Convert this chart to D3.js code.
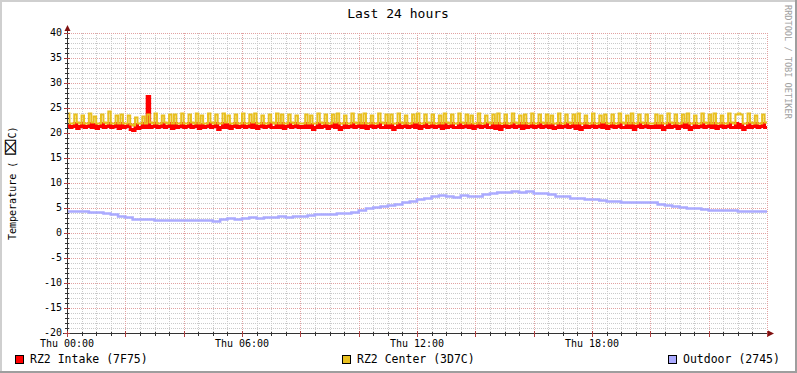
<!DOCTYPE html>
<html><head><meta charset="utf-8">
<script src="https://cdn.jsdelivr.net/npm/d3@7"></script>
<style>
body{margin:0;background:#fff}
svg{display:block}
text{font-family:"DejaVu Sans Mono",monospace}
</style>
</head><body>
<svg id="c" width="797" height="373"></svg>
<script>
// ---------- data ----------
const chartTitle = "Last 24 hours";
const yAxisLabelParts = ["Temperature (", "\u2327", "C)"];
const creditText = "RRDTOOL / TOBI OETIKER";
const seriesNames = ["RZ2 Intake (7F75)", "RZ2 Center (3D7C)", "Outdoor (2745)"];
const seriesColors = ["#ff0000", "#e8c020", "#aaaaff"];
const yTickValues = [-20, -15, -10, -5, 0, 5, 10, 15, 20, 25, 30, 35, 40];
const xLabelHours = [0, 6, 12, 18];
const xLabelTexts = ["Thu 00:00", "Thu 06:00", "Thu 12:00", "Thu 18:00"];
const stepMinutesFast = 5;     // intake / center sample step
const stepMinutesOutdoor = 15; // outdoor sample step

// RZ2 Intake, 5-minute samples, 00:00 .. 23:55
const intake = [
21.8,21.2,21.5,22.0,21.0,21.4,21.9,21.1,21.5,22.1,21.3,21.8,21.0,21.4,22.0,21.2,21.5,22.1,21.1,21.4,21.9,21.0,22.0,21.2,
21.4,21.8,20.9,20.6,21.7,21.0,21.3,21.9,21.2,27.5,21.3,21.5,22.0,21.1,21.4,21.9,21.2,21.5,22.1,21.0,21.9,21.1,21.4,22.0,
21.1,21.4,22.0,21.2,21.5,22.1,21.0,21.8,21.1,21.4,22.0,21.2,21.5,21.9,20.9,21.3,22.0,21.1,21.8,21.0,21.4,22.1,21.2,21.5,
22.0,21.1,21.4,21.9,21.2,22.0,21.0,21.4,21.9,21.2,21.5,22.0,21.1,21.3,22.1,21.2,21.9,21.0,21.4,22.0,21.1,21.5,21.9,21.2,
21.5,21.3,22.0,21.1,21.8,20.9,21.3,22.0,21.2,21.5,21.9,21.0,21.4,22.1,21.2,22.0,20.8,21.3,21.9,21.1,21.5,22.0,21.2,21.4,
21.9,21.1,22.0,21.0,21.4,21.9,21.2,21.5,22.1,21.1,21.3,22.0,21.2,21.8,20.8,21.3,22.0,21.1,21.5,21.9,21.2,21.4,22.0,21.1,
22.0,21.0,21.4,21.9,21.1,21.5,22.0,21.2,21.4,21.9,21.0,22.1,21.2,21.5,21.9,21.1,21.3,22.0,21.2,21.5,22.0,21.1,21.8,21.0,
21.4,22.0,21.1,21.5,21.9,21.2,21.3,22.0,21.0,22.0,20.9,21.4,21.9,21.1,21.5,22.1,21.2,21.4,21.9,21.0,21.9,21.1,21.4,22.0,
21.2,21.5,22.0,21.1,21.4,21.9,21.2,21.8,21.0,21.3,22.0,21.1,21.5,21.9,21.2,21.4,22.1,21.0,22.0,20.9,21.3,21.9,21.2,21.5,
22.0,21.1,21.4,21.9,21.2,22.0,21.0,21.4,21.9,21.1,21.5,22.1,21.2,21.3,21.9,21.1,22.0,20.9,21.4,22.0,21.2,21.5,21.9,21.1,
21.5,21.3,22.0,21.1,21.9,20.9,21.3,22.0,21.2,21.5,21.9,21.0,21.4,22.0,21.2,21.9,20.8,21.3,21.9,21.1,21.5,22.0,21.2,21.4,
21.9,21.1,22.0,21.0,21.4,21.9,21.2,21.5,22.1,21.1,21.3,22.0,21.2,21.8,20.9,21.3,22.0,21.1,21.5,21.9,21.2,21.4,22.0,21.1
];

// RZ2 Center, 5-minute samples, 00:00 .. 23:55
const center = [
24.0,22.1,22.0,23.7,22.2,21.9,23.6,22.1,22.0,23.9,22.2,23.5,22.0,21.9,23.8,22.2,22.0,24.5,22.1,22.0,23.6,22.1,23.8,22.0,
21.9,23.6,21.8,21.6,23.3,22.0,21.9,23.5,22.1,23.8,22.2,22.0,23.9,22.1,21.9,23.6,22.2,22.0,23.8,22.1,23.7,22.0,21.9,23.9,
22.1,21.9,23.8,22.2,22.0,23.9,22.1,23.6,22.0,21.9,24.0,22.2,22.0,23.7,22.1,21.9,23.9,22.2,23.6,22.0,21.9,23.8,22.1,22.0,
23.9,22.1,21.9,23.7,22.2,24.0,22.0,21.9,23.6,22.1,22.0,23.8,22.2,21.9,23.9,22.1,23.7,22.0,21.9,23.8,22.2,22.0,23.6,22.1,
22.0,21.9,23.8,22.1,23.6,22.0,21.9,23.9,22.2,22.0,23.7,22.1,21.9,23.8,22.2,24.0,22.0,21.9,23.6,22.1,22.0,23.9,22.2,21.9,
23.7,22.1,23.9,22.0,21.9,23.6,22.1,22.0,24.0,22.2,21.9,23.8,22.1,23.7,22.0,21.9,23.9,22.2,22.0,23.6,22.1,21.9,23.8,22.2,
24.1,22.1,21.9,23.7,22.2,22.0,23.8,22.1,21.9,23.6,22.0,23.9,22.2,22.0,23.7,22.1,21.9,24.0,22.2,22.0,23.8,22.1,23.6,22.0,
21.9,23.9,22.1,22.0,23.6,22.2,21.9,23.8,22.1,24.0,22.0,21.9,23.7,22.1,22.0,23.9,22.2,21.9,23.6,22.1,23.8,22.0,21.9,24.1,
22.1,21.9,23.7,22.2,22.0,23.8,22.1,23.6,22.0,21.9,23.9,22.1,22.0,23.7,22.2,21.9,23.8,22.1,24.0,22.0,21.9,23.6,22.1,22.0,
23.9,22.1,21.9,23.6,22.2,23.8,22.0,21.9,23.7,22.1,22.0,24.0,22.2,21.9,23.6,22.1,23.9,22.0,21.9,23.8,22.2,22.0,23.7,22.1,
22.0,21.9,23.8,22.1,23.6,22.0,21.9,23.9,22.2,22.0,23.7,22.1,21.9,23.8,22.2,24.0,22.0,21.9,23.6,22.1,22.0,23.9,22.2,21.9,
23.7,22.1,23.9,22.0,21.9,23.6,22.1,22.0,24.0,22.2,21.9,23.8,24.1,23.7,22.0,21.9,23.9,22.2,22.0,23.6,22.1,21.9,23.8,22.2
];

// Outdoor, 15-minute samples, 00:00 .. 23:45
const outdoor = [
4.5,4.5,4.4,4.3,4.2,4.1,3.9,3.4,3.2,2.9,2.9,2.8,2.6,2.6,2.6,2.6,2.6,2.6,2.7,2.6,2.5,2.9,3.0,2.9,
3.1,3.2,3.1,3.2,3.2,3.3,3.2,3.3,3.3,3.6,3.8,3.8,3.8,4.0,4.1,4.3,4.6,4.9,5.2,5.4,5.7,5.8,6.3,6.5,
6.9,7.1,7.5,7.7,7.4,7.2,7.6,7.5,7.5,7.9,8.0,8.2,8.3,8.5,8.3,8.4,8.0,8.0,7.8,7.5,7.4,7.1,7.0,6.9,
6.7,6.6,6.4,6.4,6.3,6.2,6.3,6.2,6.2,5.8,5.6,5.4,5.2,5.1,5.0,4.8,4.7,4.6,4.6,4.6,4.5,4.5,4.5,4.4
];

// ---------- drawing ----------
const svg = d3.select("#c");
const W = 797, H = 373;
const start = new Date(2015, 0, 1, 0, 0); // a Thursday
const end = d3.timeHour.offset(start, 24);

const x = d3.scaleTime().domain([start, end]).range([67, 767]);
const y = d3.scaleLinear().domain([-20, 40]).range([333, 33]);
const px = v => Math.round(v) + 0.5;

svg.append("rect").attr("width", W).attr("height", H).attr("fill", "#ffffff");
// shaded frame
svg.append("rect").attr("x", 0).attr("y", 0).attr("width", W).attr("height", 2).attr("fill", "#cfcfcf");
svg.append("rect").attr("x", 0).attr("y", 0).attr("width", 2).attr("height", H).attr("fill", "#cfcfcf");
svg.append("rect").attr("x", 0).attr("y", H - 2).attr("width", W).attr("height", 2).attr("fill", "#9e9e9e");
svg.append("rect").attr("x", W - 2).attr("y", 0).attr("width", 2).attr("height", H).attr("fill", "#9e9e9e");

const grid = svg.append("g").attr("shape-rendering", "crispEdges");
const minorColor = "#cacaca", majorColor = "#e2a2a2";

// horizontal grid
const yMinor = d3.range(-20, 41, 1).filter(v => v % 5 !== 0);
grid.selectAll(".hmin").data(yMinor).join("line")
  .attr("x1", 67).attr("x2", 767)
  .attr("y1", d => px(y(d))).attr("y2", d => px(y(d)))
  .attr("stroke", minorColor).attr("stroke-dasharray", "1,1");
// vertical grid
const xMinor = d3.timeMinute.every(30).range(start, d3.timeMinute.offset(end, 1)).filter(d => d.getMinutes() !== 0 || d.getHours() % 2 !== 0);
grid.selectAll(".vmin").data(xMinor).join("line")
  .attr("y1", 33).attr("y2", 333)
  .attr("x1", d => px(x(d))).attr("x2", d => px(x(d)))
  .attr("stroke", minorColor).attr("stroke-dasharray", "1,1");
const xMajor = d3.timeHour.every(2).range(start, d3.timeMinute.offset(end, 1));
grid.selectAll(".vmaj").data(xMajor).join("line")
  .attr("y1", 33).attr("y2", 333)
  .attr("x1", d => px(x(d))).attr("x2", d => px(x(d)))
  .attr("stroke", majorColor).attr("stroke-dasharray", "1,1");
grid.selectAll(".hmaj").data(yTickValues).join("line")
  .attr("x1", 67).attr("x2", 767)
  .attr("y1", d => px(y(d))).attr("y2", d => px(y(d)))
  .attr("stroke", majorColor).attr("stroke-dasharray", "1,1");

// series
function toPoints(arr, stepMin) {
  const pts = arr.map((v, i) => ({ t: d3.timeMinute.offset(start, i * stepMin), v }));
  pts.push({ t: end, v: arr[arr.length - 1] });
  return pts;
}
const line = d3.line()
  .x(d => x(d.t))
  .y(d => Math.round(y(d.v)) + 0.5)
  .curve(d3.curveStepAfter);

const series = [
  { data: toPoints(intake, stepMinutesFast), color: seriesColors[0], w: 3 },
  { data: toPoints(center, stepMinutesFast), color: seriesColors[1], w: 2 },
  { data: toPoints(outdoor, stepMinutesOutdoor), color: seriesColors[2], w: 2.5 }
];
series.forEach(s => {
  svg.append("path").attr("d", line(s.data))
    .attr("fill", "none").attr("stroke", s.color).attr("stroke-width", s.w)
    .attr("stroke-linejoin", "miter");
});

// axes
const axisColor = "#333333", arrowColor = "#801010", majorTickColor = "#b04040";
const ax = svg.append("g").attr("shape-rendering", "crispEdges");
ax.append("line").attr("x1", 63).attr("x2", 771).attr("y1", px(y(-20))).attr("y2", px(y(-20))).attr("stroke", axisColor);
ax.append("line").attr("x1", px(x(start))).attr("x2", px(x(start))).attr("y1", 337).attr("y2", 30).attr("stroke", axisColor);
// x ticks
ax.selectAll(".xt").data(xMinor).join("line")
  .attr("x1", d => px(x(d))).attr("x2", d => px(x(d)))
  .attr("y1", 332).attr("y2", 336).attr("stroke", axisColor);
ax.selectAll(".xT").data(xMajor).join("line")
  .attr("x1", d => px(x(d))).attr("x2", d => px(x(d)))
  .attr("y1", 331).attr("y2", 337).attr("stroke", majorTickColor);
// y ticks
ax.selectAll(".yt").data(yMinor).join("line")
  .attr("y1", d => px(y(d))).attr("y2", d => px(y(d)))
  .attr("x1", 65).attr("x2", 69).attr("stroke", axisColor);
ax.selectAll(".yT").data(yTickValues).join("line")
  .attr("y1", d => px(y(d))).attr("y2", d => px(y(d)))
  .attr("x1", 64).attr("x2", 70).attr("stroke", majorTickColor);
// arrows
svg.append("path").attr("d", "M768,330.5L774,333.5L768,336.5Z").attr("fill", arrowColor);
svg.append("path").attr("d", "M64.5,31L67.5,25L70.5,31Z").attr("fill", arrowColor);

// y labels
svg.selectAll(".yl").data(yTickValues).join("text")
  .attr("x", 62).attr("y", d => y(d)).attr("dy", "0.34em")
  .attr("text-anchor", "end").attr("font-size", 10).attr("fill", "#000")
  .text(d => d);
// x labels
svg.selectAll(".xl").data(xLabelHours).join("text")
  .attr("x", d => x(d3.timeHour.offset(start, d))).attr("y", 347)
  .attr("text-anchor", "middle").attr("font-size", 10).attr("fill", "#000")
  .text((d, i) => xLabelTexts[i]);

// title
svg.append("text").attr("x", 398).attr("y", 18).attr("text-anchor", "middle")
  .attr("font-size", 13).attr("fill", "#000").text(chartTitle);
// y axis label
const yl = svg.append("text").attr("transform", "translate(16,240) rotate(-90)")
  .attr("text-anchor", "start").attr("font-size", 10).attr("fill", "#000");
yl.append("tspan").text(yAxisLabelParts[0]);
yl.append("tspan").attr("dx", 6).attr("font-size", 15).attr("font-family", "DejaVu Sans").text(yAxisLabelParts[1]);
yl.append("tspan").attr("font-size", 10).text(yAxisLabelParts[2]);
// credit
svg.append("text").attr("transform", "translate(785,5) rotate(90)")
  .attr("font-size", 8.6).attr("fill", "#a0a0a0").text(creditText);

// legend
const legendX = [15.5, 342.5, 668.5];
seriesNames.forEach((n, i) => {
  svg.append("rect").attr("x", legendX[i]).attr("y", 355.5).attr("width", 8).attr("height", 8)
    .attr("fill", seriesColors[i]).attr("stroke", "#000").attr("stroke-width", 1);
  svg.append("text").attr("x", legendX[i] + 14.5).attr("y", 363).attr("font-size", 11.5)
    .attr("fill", "#000").text(n);
});
</script>
</body></html>
